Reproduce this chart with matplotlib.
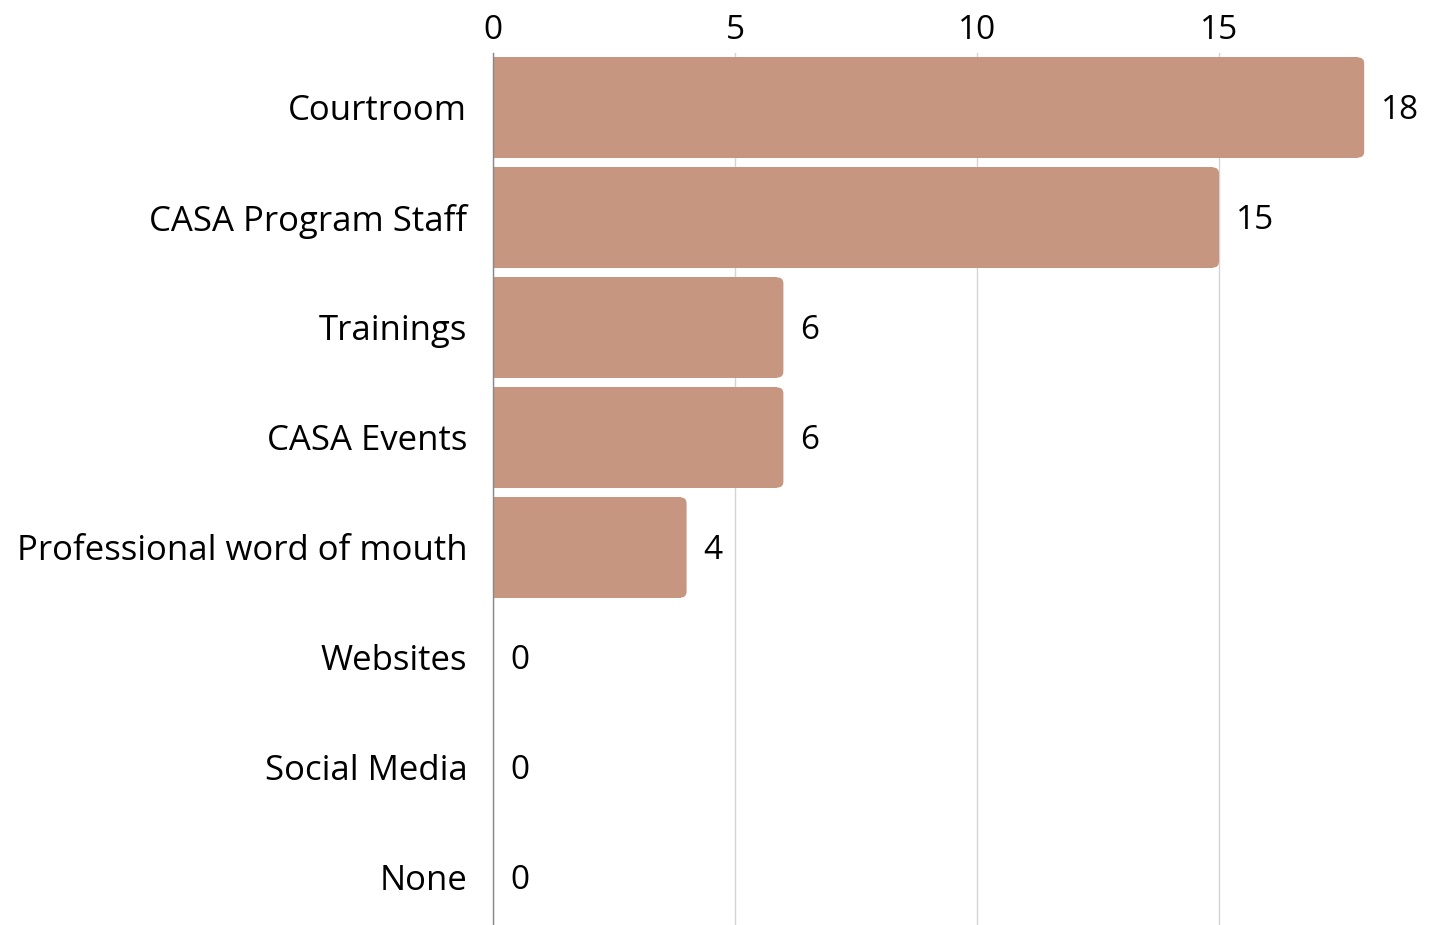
import matplotlib
matplotlib.use("Agg")
import matplotlib.pyplot as plt
from matplotlib.patches import FancyBboxPatch, Rectangle

# 数据
categories = ["Courtroom", "CASA Program Staff", "Trainings", "CASA Events",
              "Professional word of mouth", "Websites", "Social Media", "None"]
counts = [18, 15, 6, 6, 4, 0, 0, 0]
xticks = [0, 5, 10, 15]

bar_color = "#C69680"
plt.rcParams['font.family'] = ['Open Sans', 'DejaVu Sans']

W, H = 1439, 925
fig = plt.figure(figsize=(W / 100, H / 100), dpi=100)
left_px, top_px = 493, 52.5
ax = fig.add_axes([left_px / W, 0, (W - left_px) / W, (H - top_px) / H])

px_per_unit = 48.4
band_px = 110
ax.set_xlim(0, (W - left_px) / px_per_unit)
ax.set_ylim(7.5 - 7.5 / band_px, -0.5)

y = list(range(len(categories)))
bars = ax.barh(y, counts, height=0.91, color=bar_color)

# 右侧圆角
rx = 6 / px_per_unit
ry = 6 / band_px
for b in bars:
    x0, y0 = b.get_x(), b.get_y()
    w, h = b.get_width(), b.get_height()
    b.set_visible(False)
    if w <= 0:
        continue
    ax.add_patch(FancyBboxPatch((x0, y0), w, h,
                                boxstyle=f"round,pad=0,rounding_size={rx}",
                                mutation_aspect=ry / rx,
                                fc=bar_color, ec="none", lw=0, zorder=3))
    ax.add_patch(Rectangle((x0, y0), w - rx, h, fc=bar_color,
                           ec="none", lw=0, zorder=3))

for yi, v in zip(y, counts):
    ax.annotate(str(v), (v, yi), xytext=(17, -3), textcoords="offset pixels",
                va="center", ha="left", fontsize=24, color="black")

ax.set_yticks(y)
ax.set_yticklabels(categories, fontsize=25)
ax.set_xticks(xticks)
ax.xaxis.tick_top()
ax.tick_params(axis="x", length=0, pad=4, labelsize=24)
ax.tick_params(axis="y", length=0, pad=18.5)

for s in ["top", "right", "bottom"]:
    ax.spines[s].set_visible(False)
ax.spines["left"].set_color("#888888")
ax.spines["left"].set_linewidth(1)
ax.spines["left"].set_zorder(4)
ax.grid(axis="x", color="#d4d4d4", linewidth=1)
ax.set_axisbelow(True)

fig.savefig("out.png", dpi=100)
